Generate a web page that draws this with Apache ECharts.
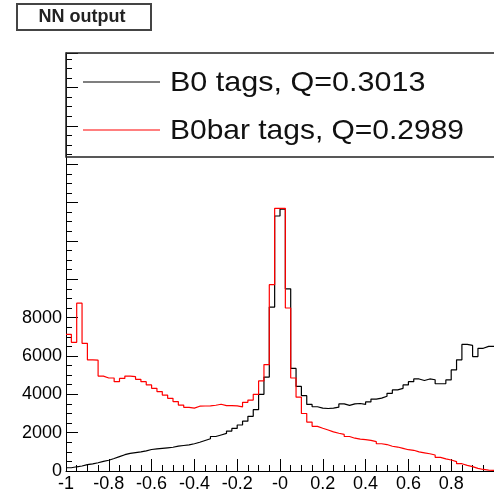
<!DOCTYPE html>
<html>
<head>
<meta charset="utf-8">
<script src="https://cdn.jsdelivr.net/npm/echarts@6/dist/echarts.min.js"></script>
<style>
  html, body { margin: 0; padding: 0; background: #fff; }
  #chart { width: 494px; height: 496px; }
</style>
</head>
<body>
<div id="chart"></div>
<script>
// Histogram range and bin contents (80 bins each)
const histRange = [-1, 1];

const b0Counts = [
  170, 220, 260, 330, 370, 430, 500, 560, 650, 750,
  850, 920, 960, 1000, 1050, 1120, 1150, 1180, 1210, 1240,
  1300, 1330, 1360, 1420, 1500, 1590, 1680, 1800, 1880, 1960,
  2080, 2220, 2400, 2600, 2850, 3200, 4000, 4900, 8550, 13300,
  13650, 9500, 5350, 4410, 3930, 3470, 3350, 3280, 3260, 3280,
  3330, 3500, 3420, 3500, 3520, 3470, 3600, 3750, 3800, 3900,
  4050, 4230, 4310, 4490, 4660, 4800, 4720, 4800, 4760, 4550,
  4560, 4750, 5270, 5800, 6600, 6550, 5970, 6400, 6500, 6500
];

const b0barCounts = [
  7130, 6710, 8750, 6660, 5800, 5780, 4950, 4850, 4850, 4660,
  4830, 4950, 4920, 4780, 4660, 4490, 4310, 4140, 3960, 3790,
  3620, 3440, 3320, 3280, 3380, 3390, 3400, 3430, 3480, 3410,
  3410, 3400, 3340, 3580, 3700, 4000, 4700, 5550, 9720, 13700,
  13700, 8500, 4850, 3850, 3000, 2550, 2330, 2230, 2140, 2040,
  1970, 1910, 1800, 1710, 1660, 1640, 1600, 1530, 1420, 1380,
  1290, 1250, 1180, 1110, 1080, 1000, 950, 900, 835, 714,
  630, 574, 490, 380, 290, 226, 140, 80, 50, 30
];

const seriesNames = ['B0 tags, Q=0.3013', 'B0bar tags, Q=0.2989'];
const seriesColors = ['#000000', '#ff0000'];
const xTickValues = [-1, -0.8, -0.6, -0.4, -0.2, 0, 0.2, 0.4, 0.6, 0.8];
const xTickLabels = ['-1', '-0.8', '-0.6', '-0.4', '-0.2', '-0', '0.2', '0.4', '0.6', '0.8'];
const yTickLabels = ['0', '2000', '4000', '6000', '8000'];
const titleText = 'NN output';

// Turn bin contents into step points at the low edge of each bin
function stepPoints(counts) {
  const w = (histRange[1] - histRange[0]) / counts.length;
  const pts = counts.map((c, i) => [histRange[0] + i * w, c]);
  pts.push([histRange[1], counts[counts.length - 1]]);
  return pts;
}

const FONT = '"Liberation Sans", Arial, Helvetica, sans-serif';

const chart = echarts.init(document.getElementById('chart'), null, { renderer: 'canvas' });

const tickCommon = {
  axisLine: { show: true, onZero: false, lineStyle: { color: '#000', width: 1 } },
  axisTick: { show: true, inside: true, length: 12, lineStyle: { color: '#000', width: 1 } },
  minorTick: { show: true, splitNumber: 4, length: 6, lineStyle: { color: '#000', width: 1 } },
  splitLine: { show: false },
  minorSplitLine: { show: false }
};

chart.setOption({
  animation: false,
  backgroundColor: '#fff',
  // the frame runs a little past the right edge of the page
  grid: { left: 66, top: 53, width: 436, height: 418, containLabel: false },
  xAxis: Object.assign({
    type: 'value',
    min: -1,
    max: 1,
    interval: 0.2,
    axisLabel: {
      margin: 4,
      fontSize: 18,
      fontFamily: FONT,
      color: '#000',
      showMaxLabel: false,
      formatter: v => {
        const i = xTickValues.findIndex(t => Math.abs(t - v) < 1e-6);
        return i >= 0 ? xTickLabels[i] : '';
      }
    }
  }, tickCommon),
  yAxis: Object.assign({
    type: 'value',
    min: 0,
    max: 21800,
    interval: 2000,
    axisLabel: {
      margin: 4,
      fontSize: 18,
      fontFamily: FONT,
      color: '#000',
      showMaxLabel: false,
      formatter: v => {
        const s = String(Math.round(v));
        return yTickLabels.indexOf(s) >= 0 ? s : '';
      }
    }
  }, tickCommon),
  series: [
    {
      name: seriesNames[0],
      type: 'line',
      step: 'end',
      symbol: 'none',
      data: stepPoints(b0Counts),
      lineStyle: { color: seriesColors[0], width: 1.2 },
      z: 3
    },
    {
      name: seriesNames[1],
      type: 'line',
      step: 'end',
      symbol: 'none',
      data: stepPoints(b0barCounts),
      lineStyle: { color: seriesColors[1], width: 1.2 },
      z: 4
    }
  ],
  graphic: [
    // title box
    {
      type: 'rect',
      shape: { x: 17, y: 4, width: 134, height: 26 },
      style: { fill: '#fff', stroke: '#444', lineWidth: 2 },
      z: 10
    },
    {
      type: 'text',
      x: 82,
      y: 17,
      style: {
        text: titleText,
        font: 'bold 18px ' + FONT,
        fill: '#222',
        align: 'center',
        verticalAlign: 'middle'
      },
      z: 11
    },
    // legend frame
    {
      type: 'rect',
      shape: { x: 66, y: 53, width: 440, height: 104 },
      style: { fill: 'rgba(255,255,255,0)', stroke: '#222', lineWidth: 1.5 },
      z: 10
    },
    {
      type: 'line',
      shape: { x1: 83, y1: 82, x2: 160, y2: 82 },
      style: { stroke: seriesColors[0], lineWidth: 1.2 },
      z: 11
    },
    {
      type: 'text',
      x: 170,
      y: 83,
      scaleX: 1.09,
      style: {
        text: seriesNames[0],
        font: '28px ' + FONT,
        fill: '#111',
        align: 'left',
        verticalAlign: 'middle'
      },
      z: 11
    },
    {
      type: 'line',
      shape: { x1: 83, y1: 130, x2: 160, y2: 130 },
      style: { stroke: seriesColors[1], lineWidth: 1.2 },
      z: 11
    },
    {
      type: 'text',
      x: 170,
      y: 131,
      scaleX: 1.07,
      style: {
        text: seriesNames[1],
        font: '28px ' + FONT,
        fill: '#111',
        align: 'left',
        verticalAlign: 'middle'
      },
      z: 11
    }
  ]
});
</script>
</body>
</html>
